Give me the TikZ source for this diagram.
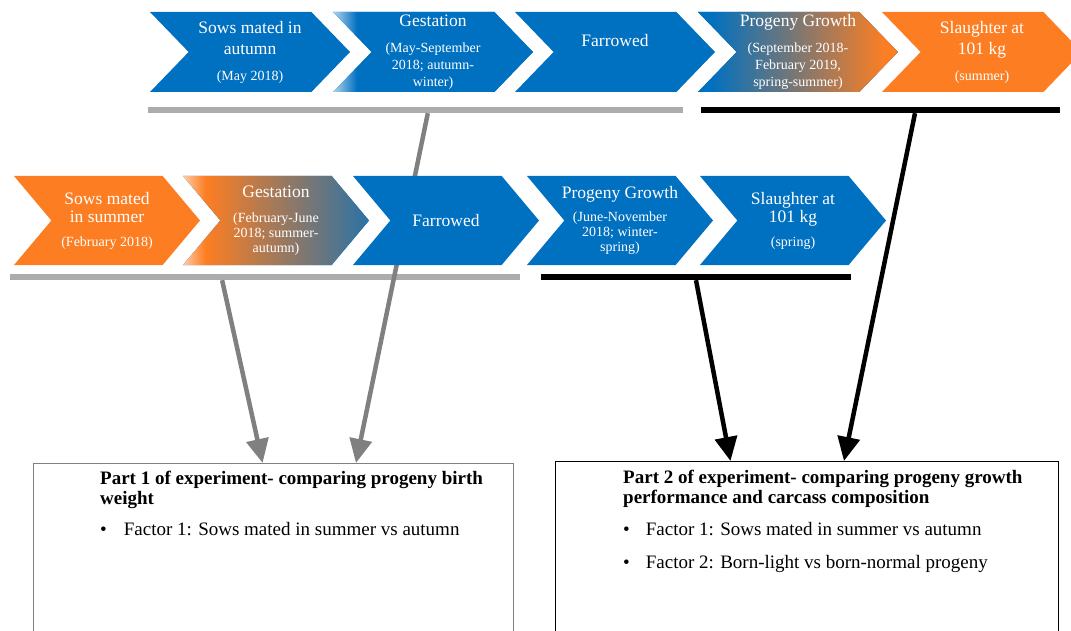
\documentclass[tikz,border=0pt]{standalone}
\usepackage{fontspec}
\setmainfont{Liberation Serif}
\usetikzlibrary{shapes.symbols,arrows.meta,calc}

\definecolor{pigblue}{RGB}{0,112,192}
\definecolor{pigorange}{RGB}{253,126,34}
\pgfdeclarehorizontalshading{gestfade}{100bp}{color(0bp)=(pigblue!30!white); color(25bp)=(pigblue!30!white); color(31bp)=(pigblue); color(100bp)=(pigblue)}
\pgfdeclarehorizontalshading{growfade}{100bp}{color(0bp)=(pigblue); color(28bp)=(pigblue); color(72bp)=(pigorange); color(100bp)=(pigorange)}
\pgfdeclarehorizontalshading{summerfade}{100bp}{color(0bp)=(pigorange!40!white); color(25bp)=(pigorange!40!white); color(31bp)=(pigorange); color(84bp)=(pigblue); color(100bp)=(pigblue)}

\newcommand{\chsub}{\fontsize{14}{15}\selectfont}

\tikzset{
    chev/.style={signal, signal from=west, signal to=east, signal pointer angle=92,
        minimum width=200pt, minimum height=80pt, inner sep=0pt, inner xsep=-10pt, fill=pigblue,
        text=white, align=center, font=\fontsize{17.5}{21}\selectfont},
    chevlow/.style={chev, minimum width=186pt, minimum height=89pt, signal pointer angle=100,
        font=\fontsize{17.5}{18}\selectfont},
    timebar/.style={minimum height=6pt, inner sep=0pt, fill=#1},
    feed/.style={draw=#1, line width=4.5pt, -{Triangle[width=22pt,length=24pt]}},
    partbox/.style={draw=#1, line width=1.3pt, minimum height=190pt, inner sep=0pt, anchor=north west},
    parttext/.style={anchor=north west, align=left, inner sep=0pt, font=\fontsize{19}{20}\selectfont}
}

\begin{document}
\begin{tikzpicture}[x=1pt, y=-1pt]
    \useasboundingbox (0,0) rectangle (1071,631);
    \clip (0,0) rectangle (1071,631);

    % bars under the two time lines
    \node[timebar=gray!65, minimum width=535pt] (autumnA) at (415.5,110) {};
    \node[timebar=black, minimum width=359pt] (autumnB) at (880.5,110) {};
    \node[timebar=gray!65, minimum width=510pt] (summerA) at (265,277) {};
    \node[timebar=black, minimum width=310pt] (summerB) at (696,277) {};

    % the two parts of the experiment
    \node[partbox=gray] (part1) at (33,463) [minimum width=480pt] {};
    \node[partbox=black] (part2) at (555,461) [minimum width=503pt] {};
    \node[parttext] (part1txt) at (100,471)
        {\textbf{Part 1 of experiment- comparing progeny birth}\\
         \textbf{weight}\\[11pt]
         \textbullet\hspace{17pt}Factor 1: Sows mated in summer vs autumn};
    \node[parttext] (part2txt) at (623,470)
        {\textbf{Part 2 of experiment- comparing progeny growth}\\
         \textbf{performance and carcass composition}\\[12pt]
         \textbullet\hspace{16pt}Factor 1: Sows mated in summer vs autumn\\[13pt]
         \textbullet\hspace{16pt}Factor 2: Born-light vs born-normal progeny};

    \draw[feed=gray] ($(autumnA.south west)!0.523!(autumnA.south east)$) -- ($(part1.north west)!0.671!(part1.north east)$);
    \draw[feed=gray] ($(summerA.south west)!0.416!(summerA.south east)$) -- ($(part1.north west)!0.477!(part1.north east)$);
    \draw[feed=black] (summerB.south) -- ($(part2.north west)!0.348!(part2.north east)$);
    \draw[feed=black] ($(autumnB.south west)!0.596!(autumnB.south east)$) -- ($(part2.north west)!0.573!(part2.north east)$);

    % sows mated in autumn
    \node[chev] (a1) at (250,52) {Sows mated in\\autumn\\[5pt]{\chsub (May 2018)}};
    \node[chev, shade, shading=gestfade] (a2) at (433,52)
        {Gestation\\[5pt]{\chsub (May-September}\\[-4pt]{\chsub 2018; autumn-}\\[-4pt]{\chsub winter)}};
    \node[chev, text depth=24pt] (a3) at (615,52) {Farrowed};
    \node[chev, shade, shading=growfade] (a4) at (798,52)
        {Progeny Growth\\[5pt]{\chsub (September 2018-}\\[-4pt]{\chsub February 2019,}\\[-4pt]{\chsub spring-summer)}};
    \node[chev, fill=pigorange] (a5) at (982,52) {Slaughter at\\101 kg\\[5pt]{\chsub (summer)}};

    % sows mated in summer
    \node[chevlow, fill=pigorange] (s1) at (107,220.5) {Sows mated\\in summer\\[6pt]{\chsub (February 2018)}};
    \node[chevlow, shade, shading=summerfade] (s2) at (276,220.5)
        {Gestation\\[7pt]{\chsub (February-June}\\[-3pt]{\chsub 2018; summer-}\\[-3pt]{\chsub autumn)}};
    \node[chevlow] (s3) at (446,220.5) {Farrowed};
    \node[chevlow] (s4) at (620,220.5)
        {Progeny Growth\\[5pt]{\chsub (June-November}\\[-3pt]{\chsub 2018; winter-}\\[-3pt]{\chsub spring)}};
    \node[chevlow] (s5) at (793,220.5) {Slaughter at\\101 kg\\[6pt]{\chsub (spring)}};
\end{tikzpicture}
\end{document}
